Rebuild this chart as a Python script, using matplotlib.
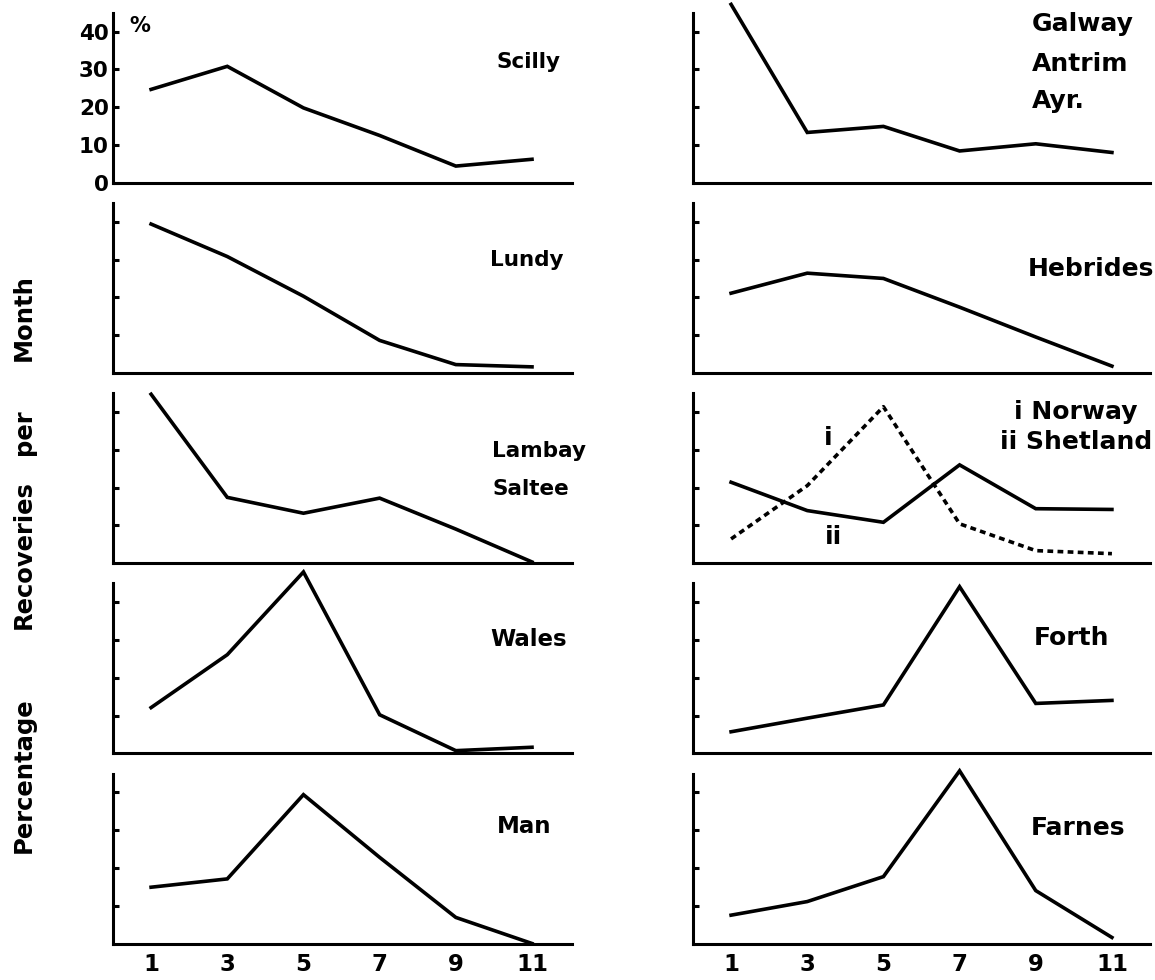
import matplotlib
matplotlib.use("Agg")
import matplotlib.pyplot as plt

# month of recovery (odd months only)
months = [1, 3, 5, 7, 9, 11]

# percentage recoveries per month
scilly = [24.7, 30.8, 19.8, 12.5, 4.4, 6.2]
galway = [47.2, 13.3, 14.9, 8.4, 10.3, 8.0]
lundy = [39.4, 30.8, 20.3, 8.6, 2.2, 1.6]
hebrides = [21.1, 26.4, 25.0, 17.4, 9.5, 1.8]
lambay = [44.7, 17.4, 13.2, 17.2, 9.0, 0.3]
norway = [6.4, 20.5, 41.4, 10.4, 3.3, 2.5]
shetland = [21.4, 13.9, 10.8, 26.0, 14.4, 14.2]
wales = [12.1, 26.1, 48.0, 10.2, 0.7, 1.6]
forth = [5.7, 9.3, 12.8, 44.1, 13.2, 14.0]
man = [14.9, 17.1, 39.4, 22.8, 6.9, 0.0]
farnes = [7.5, 11.1, 17.7, 45.7, 14.0, 1.6]

y_ticks = [0, 10, 20, 30, 40]
x_ticks = [1, 3, 5, 7, 9, 11]

W, H = 1155, 980
fig = plt.figure(figsize=(W / 100, H / 100), dpi=100)

FONT = dict(fontweight='bold', family='DejaVu Sans')
LW = 2.6


def make_axes(col, row):
    if col == 0:
        x0, w, xmax = 113, 459, 12.05
    else:
        x0, w, xmax = 693, 457, 12.0
    base = 182.7 + 190.2 * row
    ax = fig.add_axes([x0 / W, 1 - base / H, w / W, 170 / H])
    ax.set_xlim(0, xmax)
    ax.set_ylim(0, 45)
    for s in ['top', 'right']:
        ax.spines[s].set_visible(False)
    for s in ['left', 'bottom']:
        ax.spines[s].set_linewidth(2.2)
    ax.set_yticks([10, 20, 30, 40])
    ax.set_yticklabels([])
    ax.tick_params(axis='y', direction='in', length=4, width=2.2)
    ax.set_xticks(x_ticks)
    ax.tick_params(axis='x', length=0, pad=7)
    if row == 4:
        ax.set_xticklabels([str(m) for m in x_ticks], fontsize=16.5, **FONT)
    else:
        ax.set_xticklabels([])
    return ax


def panel(ax, series, ls='-'):
    ax.plot(months, series, color='black', lw=LW, ls=ls, clip_on=False,
            solid_joinstyle='miter')


def label(ax, x, y, text, ha='center', size=15.5):
    ax.text(x, y, text, ha=ha, va='center', fontsize=size, **FONT)


# left column
ax = make_axes(0, 0)
panel(ax, scilly)
ax.set_yticks(y_ticks)
ax.set_yticklabels([str(v) for v in y_ticks], fontsize=15.5, **FONT)
ax.tick_params(axis='y', pad=3)
ax.text(0.42, 41.5, '%', ha='left', va='center', fontsize=15, **FONT)
label(ax, 10.9, 32, 'Scilly')

ax = make_axes(0, 1)
panel(ax, lundy)
label(ax, 10.85, 30, 'Lundy')

ax = make_axes(0, 2)
panel(ax, lambay)
label(ax, 9.95, 29.7, 'Lambay', ha='left')
label(ax, 9.95, 19.7, 'Saltee', ha='left')

ax = make_axes(0, 3)
panel(ax, wales)
label(ax, 10.9, 30, 'Wales', size=16.5)

ax = make_axes(0, 4)
panel(ax, man)
label(ax, 10.8, 31, 'Man', size=16.5)

# right column
R = 18
ax = make_axes(1, 0)
panel(ax, galway)
label(ax, 8.9, 41.9, 'Galway', ha='left', size=R)
label(ax, 8.9, 31.5, 'Antrim', ha='left', size=R)
label(ax, 8.9, 21.5, 'Ayr.', ha='left', size=R)

ax = make_axes(1, 1)
panel(ax, hebrides)
label(ax, 10.45, 27.5, 'Hebrides', size=R)

ax = make_axes(1, 2)
panel(ax, norway, ls=(0, (1.6, 1.2)))
panel(ax, shetland)
label(ax, 10.05, 40, 'i Norway', size=R)
label(ax, 10.05, 32, 'ii Shetland', size=R)
label(ax, 3.55, 33, 'i', size=R)
label(ax, 3.7, 6.9, 'ii', size=R)

ax = make_axes(1, 3)
panel(ax, forth)
label(ax, 9.95, 30.5, 'Forth', size=R)

ax = make_axes(1, 4)
panel(ax, farnes)
label(ax, 10.1, 30.6, 'Farnes', size=R)

# shared y label, words spread out down the left margin
for word, yc in [('Month', 318), ('per', 432), ('Recoveries', 555),
                 ('Percentage', 775)]:
    fig.text(24 / W, 1 - yc / H, word, rotation=90, ha='center', va='center',
             fontsize=17.5, **FONT)

plt.savefig('out.png', dpi=100)
